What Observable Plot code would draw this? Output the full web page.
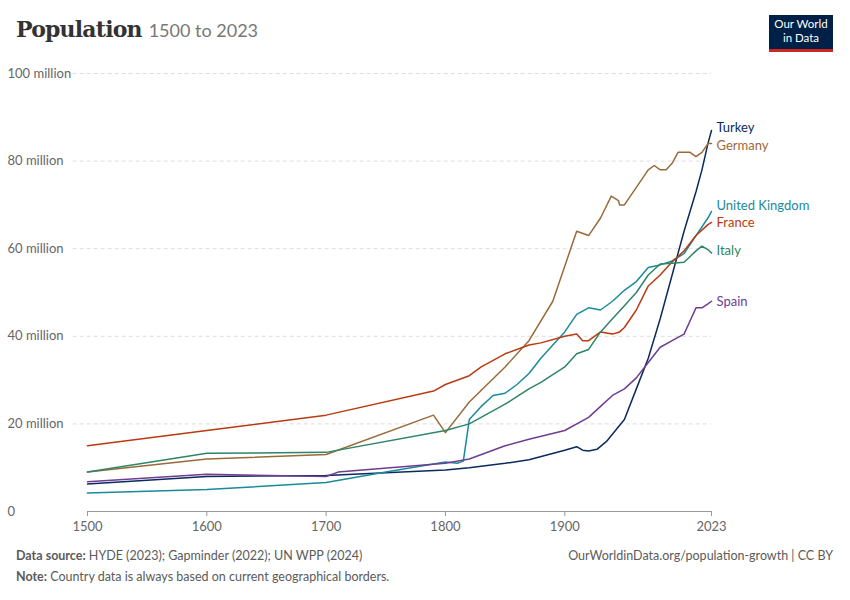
<!DOCTYPE html>
<html><head><meta charset="utf-8">
<script src="https://cdn.jsdelivr.net/npm/d3@7"></script>
<script src="https://cdn.jsdelivr.net/npm/@observablehq/plot@0.6"></script>
<style>
body{margin:0;background:#fff;font-family:Lato,sans-serif;}
#wrap{position:relative;width:850px;height:600px;}
#title{position:absolute;left:16px;top:16px;font-family:"DejaVu Serif","Liberation Serif",serif;font-size:22px;color:#333;font-weight:bold;letter-spacing:-0.8px}
#title span{font-size:18px;color:#777;font-weight:normal;font-family:Lato,sans-serif;letter-spacing:0}
#logo{position:absolute;left:769px;top:15px;width:64px;height:37px;background:#002147;color:#fff;font-size:11.5px;line-height:14px;text-align:center;padding-top:2px;box-sizing:border-box;border-bottom:3px solid #ce261e}
#chart{position:absolute;left:0;top:55px;}
.foot{position:absolute;font-size:12.5px;color:#5b5b5b}
</style></head><body><div id="wrap">
<div id="title">Population <span>1500 to 2023</span></div>
<div id="logo">Our World<br>in Data</div>
<div id="chart"></div>
<div class="foot" style="left:16px;top:548px"><b>Data source:</b> HYDE (2023); Gapminder (2022); UN WPP (2024)</div>
<div class="foot" style="right:17px;top:548px">OurWorldinData.org/population-growth | CC BY</div>
<div class="foot" style="left:16px;top:569px"><b>Note:</b> Country data is always based on current geographical borders.</div>
</div>
<script>
const turkeyYears=[1500,1600,1700,1800,1820,1850,1870,1900,1910,1915,1920,1927,1935,1950,1960,1970,1980,1990,2000,2010,2015,2020,2023];
const turkeyVals=[6.3,8,8.2,9.5,10,11,11.8,14,14.8,14,13.8,14.2,16,21,28,35,44,54,64,73,78,84,87];
const germanyYears=[1500,1600,1700,1790,1800,1820,1850,1870,1890,1900,1910,1920,1930,1939,1945,1946,1950,1960,1970,1975,1980,1985,1990,1995,2000,2005,2010,2015,2020,2023];
const germanyVals=[9,12,13,22,18,25,33,39,48,56,64,63,67,72,71,70,70,74,78,79,78,78,79.5,82,82,82,81,82,84,84];
const ukYears=[1500,1600,1700,1750,1800,1810,1815,1820,1830,1840,1850,1860,1870,1880,1890,1900,1910,1920,1930,1940,1950,1960,1970,1980,1990,2000,2010,2020,2023];
const ukVals=[4.2,5,6.6,9,11.3,11,11.5,21,24,26.5,27,29,31.5,35,38,41,45,46.5,46,48,50.5,52.5,55.7,56.3,57.2,58.9,63,67,68.5];
const franceYears=[1500,1600,1700,1790,1800,1820,1830,1850,1870,1880,1900,1910,1915,1920,1930,1940,1946,1950,1960,1970,1980,1990,2000,2010,2020,2023];
const franceVals=[15,18.5,22,27.5,29,31,33,36,38,38.5,40,40.5,39,39,41,40.5,41,42,46,51.5,54,57,59.5,63,65.5,66];
const italyYears=[1500,1600,1700,1800,1820,1850,1870,1880,1900,1910,1920,1930,1940,1950,1960,1970,1980,1990,2000,2010,2015,2020,2023];
const italyVals=[9,13.3,13.5,18.5,20,24.5,28,29.5,33,36,37,41,44,47,50,54,56.5,56.7,56.9,59.5,60.6,59.8,59];
const spainYears=[1500,1600,1700,1710,1800,1820,1850,1870,1900,1920,1930,1940,1950,1960,1970,1980,1990,2000,2005,2010,2015,2020,2023];
const spainVals=[6.8,8.5,8,9,11,12,15,16.5,18.5,21.5,24,26.5,28,30.5,34,37.5,39,40.5,43.5,46.5,46.5,47.4,48];
const countries=["Turkey","Germany","United Kingdom","France","Italy","Spain"];
const colors=["#0b2a5c","#9a6a3a","#1a8a9b","#b83a12","#2e8565","#6e3d92"];
const labelY=[87.5,83.4,69.9,65.8,59.4,47.8];
const xTicks=[1500,1600,1700,1800,1900,2023];
const yTicks=[0,20,40,60,80,100];

const series=[[turkeyYears,turkeyVals],[germanyYears,germanyVals],[ukYears,ukVals],[franceYears,franceVals],[italyYears,italyVals],[spainYears,spainVals]];
const data=[];
series.forEach(([ys,vs],i)=>ys.forEach((y,j)=>data.push({country:countries[i],year:y,v:vs[j]})));
const labels=countries.map((c,i)=>({country:c,year:2023,v:labelY[i]}));

const plot=Plot.plot({
  width:850,height:480,marginTop:18,marginBottom:24,marginLeft:87,marginRight:139,
  style:{fontFamily:"Lato,sans-serif",fontSize:"13px",color:"#666"},
  x:{domain:[1500,2023],ticks:xTicks,tickFormat:d=>String(d),label:null},
  y:{domain:[0,100],ticks:yTicks,label:null},
  color:{domain:countries,range:colors},
  marks:[
    Plot.gridY(yTicks.filter(d=>d>0),{stroke:"#ddd",strokeOpacity:1,strokeDasharray:"4,3",x1:1488,x2:2023}),
    Plot.axisY({ticks:yTicks,tickSize:0,textAnchor:"start",dx:-71,dy:0,tickFormat:d=>d===0?"0":d+" million",fill:"#666"}),
    Plot.axisX({ticks:xTicks,tickSize:5,tickPadding:5,tickFormat:d=>String(d),stroke:"#999",fill:"#666"}),
    Plot.ruleY([0],{stroke:"#999"}),
    Plot.line(data,{x:"year",y:"v",z:"country",stroke:"country",strokeWidth:1.5}),
    Plot.text(labels,{x:"year",y:"v",text:"country",fill:"country",textAnchor:"start",dx:5,fontSize:13})
  ]
});
document.getElementById("chart").append(plot);
</script></body></html>
